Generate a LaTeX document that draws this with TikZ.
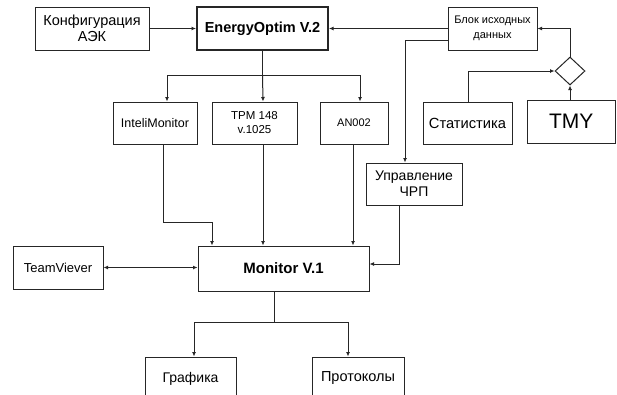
\documentclass[tikz,border=0pt]{standalone}
\usepackage{fontspec}
\setmainfont{Liberation Sans}
\usetikzlibrary{shapes.geometric,arrows.meta}

\begin{document}
\begin{tikzpicture}[x=1pt,y=-1pt,
	box/.style={draw=linegray,line width=1pt,inner sep=0pt,align=center},
	arr/.style={draw=linegray,line width=1pt,-{Latex[length=4.5pt,width=4pt]}},
	link/.style={draw=linegray,line width=1pt}]
					\definecolor{linegray}{HTML}{262626}
					\path[use as bounding box,clip] (0,0) rectangle (617,394);
					\fill[white] (0,0) rectangle (617,394);
					
					\node[box,minimum width=114pt,minimum height=43pt,font=\fontsize{14.5}{16}\selectfont] (konf) at (92,28.5) {Конфигурация\\АЭК};
					\node[box,line width=2pt,minimum width=131pt,minimum height=43pt,font=\fontsize{14.5}{16}\selectfont\bfseries] (energy) at (262.5,28.5) {EnergyOptim V.2};
					\node[box,minimum width=89pt,minimum height=43pt,font=\fontsize{11}{15}\selectfont] (blok) at (492.5,28.5) {Блок исходных\\данных};
					\node[box,minimum width=84pt,minimum height=42pt,font=\fontsize{12.5}{14}\selectfont] (intel) at (155,123) {InteliMonitor};
					\node[box,minimum width=85pt,minimum height=42pt,font=\fontsize{11.5}{14}\selectfont] (tpm) at (254.5,123) {TPM 148\\v.1025};
					\node[box,minimum width=68pt,minimum height=42pt,font=\fontsize{11}{14}\selectfont] (an) at (354,123) {AN002};
					\node[box,minimum width=89pt,minimum height=42pt,font=\fontsize{14.7}{16}\selectfont] (stat) at (467.5,123) {Статистика};
					\node[box,minimum width=88.5pt,minimum height=43pt,font=\fontsize{21}{24}\selectfont] (tmy) at (571.25,121.5) {TMY};
					\node[draw=linegray,line width=1pt,diamond,inner sep=0pt,minimum width=30pt,minimum height=28pt] (dia) at (570,71) {};
					\node[box,minimum width=96pt,minimum height=42pt,font=\fontsize{14}{16}\selectfont] (upr) at (414,184) {Управление\\ЧРП};
					\node[box,minimum width=171pt,minimum height=45pt,font=\fontsize{15}{16}\selectfont\bfseries] (monitor) at (283.5,268.5) {Monitor V.1};
					\node[box,minimum width=90pt,minimum height=43pt,font=\fontsize{13}{14}\selectfont] (team) at (58,267.5) {TeamViever};
					\node[box,minimum width=91pt,minimum height=43pt,font=\fontsize{14}{16}\selectfont] (graf) at (190.5,378.5) {Графика};
					\node[box,minimum width=92pt,minimum height=43pt,font=\fontsize{14.5}{16}\selectfont] (prot) at (358,378.5) {Протоколы};
					
					% top row
					\draw[arr] (konf.east) -- (energy.west);
					\draw[arr] (blok.west) -- (energy.east);
					\draw[arr] (dia.north) |- (blok.east);
					\draw[arr] ([xshift=0.5pt]stat.north) |- (dia.west);
					\draw[arr] (tmy.north -| dia.south) -- (dia.south);
					\draw[arr] ([yshift=-11.5pt]blok.west) -| ([xshift=-9pt]upr.north);
					
					% EnergyOptim to the three programs
					\coordinate (split) at (262.5,75);
					\draw[link] (energy.south) -- (split);
					\draw[arr] (split) -| ([xshift=12pt]intel.north);
					\draw[arr] (split) -- ([xshift=8.5pt]tpm.north);
					\draw[arr] (split) -| ([xshift=6pt]an.north);
					
					% programs to Monitor
					\draw[arr] ([xshift=8pt]intel.south) -- ++(0,78) -| ([xshift=-71.5pt]monitor.north);
					\draw[arr] ([xshift=8.5pt]tpm.south) -- ([xshift=8.5pt]tpm.south |- monitor.north);
					\draw[arr] ([xshift=-1pt]an.south) -- ([xshift=-1pt]an.south |- monitor.north);
					\draw[arr] ([xshift=-15pt]upr.south) |- ([yshift=4.5pt]monitor.east);
					\draw[arr,{Latex[length=4.5pt,width=4pt]}-{Latex[length=4.5pt,width=4pt]}] (team.east) -- (team.east -| monitor.west);
					
					% Monitor outputs
					\coordinate (out) at (274,322);
					\draw[link] ([xshift=-9.5pt]monitor.south) -- (out);
					\draw[arr] (out) -| ([xshift=3.5pt]graf.north);
					\draw[arr] (out) -| ([xshift=-10pt]prot.north);
				\end{tikzpicture}
\end{document}
